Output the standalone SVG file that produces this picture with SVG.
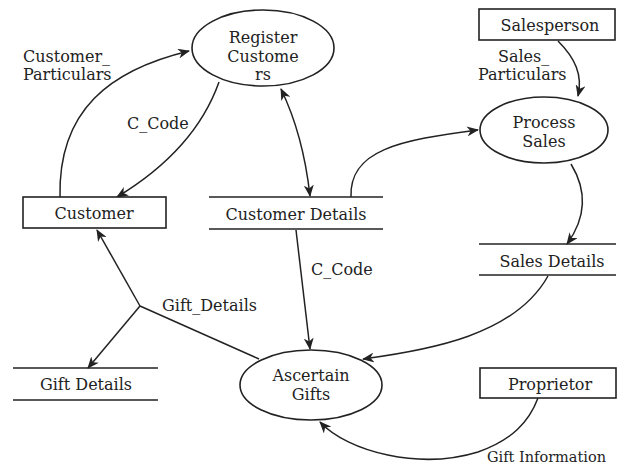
<svg xmlns="http://www.w3.org/2000/svg" width="617" height="466" viewBox="0 0 617 466">
  <style>
    .shape { fill: #fff; stroke: #222; stroke-width: 1.6; }
    .store { stroke: #222; stroke-width: 1.6; fill: none; }
    .flow { fill: none; stroke: #222; stroke-width: 1.5; }
    text { font-family: "DejaVu Serif", "Liberation Serif", serif; font-size: 16px; fill: #222; }
    .c { text-anchor: middle; }
  </style>
  <defs>
    <marker id="arrow" viewBox="0 0 12 10" refX="11" refY="5" markerWidth="12" markerHeight="10" markerUnits="userSpaceOnUse" orient="auto-start-reverse">
      <path d="M0,0 L12,5 L0,10 L3.5,5 Z" fill="#222"/>
    </marker>
  </defs>

  <rect width="617" height="466" fill="#fff"/>

  <!-- data flows -->
  <g id="connectors">
    <path class="flow" d="M60,197 C58,110 110,70 189,51" marker-end="url(#arrow)"/>
    <path class="flow" d="M219,82 C202,130 165,168 117,197" marker-end="url(#arrow)"/>
    <path class="flow" d="M281,89 C296,120 306,160 310,196" marker-start="url(#arrow)" marker-end="url(#arrow)"/>
    <path class="flow" d="M351,197 C349,150 400,140 478,130" marker-end="url(#arrow)"/>
    <path class="flow" d="M558,41 C575,58 583,75 578,96" marker-end="url(#arrow)"/>
    <path class="flow" d="M571,164 C588,192 586,218 567,244" marker-end="url(#arrow)"/>
    <path class="flow" d="M548,276 C515,335 430,350 363,359" marker-end="url(#arrow)"/>
    <path class="flow" d="M296,230 L310,349" marker-end="url(#arrow)"/>
    <path class="flow" d="M538,398 C529,422 512,440 478,452 C420,470 348,452 320,422" marker-end="url(#arrow)"/>
    <path class="flow" d="M259,359 L140,306"/>
    <path class="flow" d="M140,306 L97,230" marker-end="url(#arrow)"/>
    <path class="flow" d="M140,306 L88,368" marker-end="url(#arrow)"/>
  </g>

  <!-- flow labels -->
  <g id="labels">
    <text x="23" y="62">Customer_</text>
    <text x="23" y="80">Particulars</text>
    <text x="127" y="129">C_Code</text>
    <text x="498" y="62">Sales_</text>
    <text x="478" y="80">Particulars</text>
    <text x="311" y="275">C_Code</text>
    <text x="162" y="311">Gift_Details</text>
    <text x="487" y="462" style="font-size:14.5px">Gift Information</text>
  </g>

  <g id="register-customers">
    <ellipse class="shape" cx="263" cy="48" rx="71" ry="38"/>
    <text class="c" x="263" y="43">Register</text>
    <text class="c" x="263" y="62">Custome</text>
    <text class="c" x="263" y="80">rs</text>
  </g>

  <g id="customer">
    <rect class="shape" x="23" y="197" width="143" height="31"/>
    <text class="c" x="94" y="219">Customer</text>
  </g>

  <g id="customer-details">
    <line class="store" x1="209" y1="197" x2="383" y2="197"/>
    <line class="store" x1="209" y1="229" x2="383" y2="229"/>
    <text class="c" x="296" y="220">Customer Details</text>
  </g>

  <g id="salesperson">
    <rect class="shape" x="479" y="9" width="136" height="31"/>
    <text class="c" x="550" y="31">Salesperson</text>
  </g>

  <g id="process-sales">
    <ellipse class="shape" cx="544" cy="130" rx="64" ry="33"/>
    <text class="c" x="544" y="128">Process</text>
    <text class="c" x="544" y="147">Sales</text>
  </g>

  <g id="sales-details">
    <line class="store" x1="479" y1="244" x2="616" y2="244"/>
    <line class="store" x1="479" y1="275" x2="616" y2="275"/>
    <text class="c" x="552" y="267">Sales Details</text>
  </g>

  <g id="ascertain-gifts">
    <ellipse class="shape" cx="311" cy="385" rx="71" ry="35"/>
    <text class="c" x="311" y="381">Ascertain</text>
    <text class="c" x="311" y="400">Gifts</text>
  </g>

  <g id="proprietor">
    <rect class="shape" x="480" y="368" width="136" height="30"/>
    <text class="c" x="550" y="390">Proprietor</text>
  </g>

  <g id="gift-details">
    <line class="store" x1="13" y1="368" x2="158" y2="368"/>
    <line class="store" x1="13" y1="400" x2="158" y2="400"/>
    <text class="c" x="86" y="390">Gift Details</text>
  </g>
</svg>
